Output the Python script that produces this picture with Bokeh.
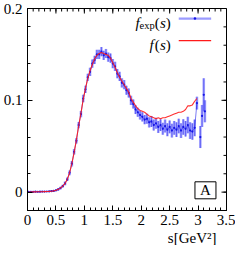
import numpy as np
from bokeh.plotting import figure
from bokeh.models import FixedTicker, Label, Range1d, Title
from bokeh.embed import file_html
from bokeh.resources import INLINE

# ---------------- data ----------------
s_grid = np.round(np.arange(0.02, 3.0, 0.04), 2)          # 0.02 ... 2.98

f_model = [0.0002, 0.0002, 0.0003, 0.0003, 0.0004, 0.0004, 0.0005, 0.0006, 0.0007, 0.0008,
           0.0010, 0.0014, 0.0020, 0.0030, 0.0045, 0.0065, 0.0095, 0.0140, 0.0210, 0.0310,
           0.043, 0.057, 0.072, 0.086, 0.101, 0.113, 0.124, 0.132, 0.139, 0.145,
           0.149, 0.151, 0.152, 0.151, 0.150, 0.149, 0.146, 0.141, 0.136, 0.130,
           0.125, 0.121, 0.117, 0.113, 0.109, 0.102, 0.098, 0.094, 0.091, 0.089,
           0.088, 0.087, 0.085, 0.083, 0.082, 0.081, 0.080, 0.081, 0.080, 0.081,
           0.081, 0.082, 0.083, 0.084, 0.085, 0.086, 0.087, 0.087, 0.088, 0.090,
           0.094, 0.094, 0.095, 0.099, 0.102]

s_exp = list(s_grid) + [3.04, 3.07, 3.10, 3.12]
f_exp = [0.0003, 0.0004, 0.0003, 0.0005, 0.0004, 0.0005, 0.0006, 0.0006, 0.0007, 0.0008,
         0.0010, 0.0013, 0.0020, 0.0030, 0.0045, 0.0065, 0.0095, 0.0140, 0.0210, 0.0310,
         0.044, 0.056, 0.073, 0.085, 0.102, 0.112, 0.125, 0.131, 0.140, 0.144,
         0.150, 0.150, 0.153, 0.149, 0.151, 0.147, 0.146, 0.140, 0.137, 0.129,
         0.126, 0.119, 0.117, 0.111, 0.108, 0.100, 0.096, 0.090, 0.087, 0.084,
         0.082, 0.079, 0.080, 0.076, 0.077, 0.073, 0.075, 0.071, 0.073, 0.069,
         0.072, 0.068, 0.071, 0.067, 0.070, 0.068, 0.072, 0.067, 0.071, 0.069,
         0.073, 0.067, 0.066, 0.070, 0.097,
         0.060, 0.083, 0.106, 0.088]
f_err = [0.0005] * 10 + \
        [0.0008, 0.0010, 0.0010, 0.0012, 0.0015, 0.0015, 0.0020, 0.0020, 0.0025, 0.0030] + \
        [0.0030, 0.0030, 0.0035, 0.0035, 0.0040, 0.0040, 0.0040, 0.0045, 0.0045, 0.0045] + \
        [0.005] * 10 + \
        [0.005] * 10 + \
        [0.0050, 0.0050, 0.0055, 0.0055, 0.0060, 0.0060, 0.0060, 0.0065, 0.0065, 0.0065] + \
        [0.0070, 0.0070, 0.0070, 0.0075, 0.0075, 0.0080, 0.0080, 0.0080, 0.0085, 0.0085] + \
        [0.0090, 0.0090, 0.0090, 0.0090, 0.0070] + \
        [0.012, 0.012, 0.018, 0.012]

x_ticks = [0, 0.5, 1, 1.5, 2, 2.5, 3, 3.5]
x_tick_labels = ["0", "0.5", "1", "1.5", "2", "2.5", "3", "3.5"]
y_ticks = [0, 0.1, 0.2]
y_tick_labels = ["0", "0.1", "0.2"]
x_minor = [round(v, 2) for v in np.arange(0, 3.51, 0.1)]
y_minor = [round(v, 3) for v in np.arange(-0.02, 0.201, 0.02)]

x_title = "s[GeV\u00b2]"
panel_tag = "A"

SERIF = "Liberation Serif"
FS = "15px"
LIGHT_BLUE = "#8a8aff"
DARK_BLUE = "#1414e6"
RED = "#ff1a1a"

X0, X1 = 0, 3.5
Y0, Y1 = -0.02, 0.2

# ---------------- figure ----------------
p = figure(width=235, height=245, output_backend="svg", toolbar_location=None,
           x_range=Range1d(X0, X1), y_range=Range1d(Y0, Y1),
           min_border_left=0, min_border_right=9, min_border_top=8,
           min_border_bottom=0)
p.grid.visible = False
p.outline_line_color = "black"
p.background_fill_color = "white"
p.border_fill_color = "white"

p.xaxis.ticker = FixedTicker(ticks=x_ticks, minor_ticks=x_minor)
p.yaxis.ticker = FixedTicker(ticks=y_ticks, minor_ticks=y_minor)
for ax in (p.xaxis[0], p.yaxis[0]):
    ax.axis_line_color = "black"
    ax.major_tick_line_color = "black"
    ax.minor_tick_line_color = "black"
    ax.major_tick_in = 5
    ax.major_tick_out = 0
    ax.minor_tick_in = 3
    ax.minor_tick_out = 0
    ax.major_label_text_font = SERIF
    ax.major_label_text_font_size = FS
    ax.major_label_text_color = "black"
p.xaxis.major_label_overrides = dict(zip(x_ticks, x_tick_labels))
p.yaxis.major_label_overrides = dict(zip(y_ticks, y_tick_labels))
p.xaxis.major_label_standoff = 4
p.yaxis.major_label_standoff = 5

# x-axis title, right-aligned like the reference
p.add_layout(Title(text=x_title, align="right", offset=10, standoff=0,
                   text_font=SERIF, text_font_size=FS, text_font_style="normal",
                   text_color="black"), "below")

# mirrored inward ticks on top and right
p.ray(x=x_ticks, y=[Y1] * len(x_ticks), length=5, length_units="screen",
      angle=-np.pi / 2, line_color="black", line_width=1)
p.ray(x=x_minor, y=[Y1] * len(x_minor), length=3, length_units="screen",
      angle=-np.pi / 2, line_color="black", line_width=1)
p.ray(x=[X1] * len(y_ticks), y=y_ticks, length=5, length_units="screen",
      angle=np.pi, line_color="black", line_width=1)
p.ray(x=[X1] * len(y_minor), y=y_minor, length=3, length_units="screen",
      angle=np.pi, line_color="black", line_width=1)

# ---------------- data marks ----------------
lo = [v - e for v, e in zip(f_exp, f_err)]
hi = [v + e for v, e in zip(f_exp, f_err)]
p.segment(x0=s_exp, y0=lo, x1=s_exp, y1=hi, line_color=LIGHT_BLUE,
          line_width=2.6, line_alpha=0.75)
p.segment(x0=s_exp, y0=lo, x1=s_exp, y1=hi, line_color=DARK_BLUE,
          line_width=0.6, line_alpha=0.8)
p.line(x=s_exp[:len(s_grid)], y=f_exp[:len(s_grid)], line_color=DARK_BLUE,
       line_width=0.8, line_alpha=0.7)
p.scatter(x=s_exp, y=f_exp, size=2.2, color=DARK_BLUE, line_width=0)
p.line(x=list(s_grid), y=f_model, line_color=RED, line_width=1.1, line_alpha=0.9)

# ---------------- legend (text left, sample right) ----------------
leg_x_text = 2.52
leg_x0, leg_x1 = 2.66, 3.23
row1, row2 = 0.189, 0.165

p.segment(x0=[leg_x0], y0=[row1], x1=[leg_x1], y1=[row1], line_color=LIGHT_BLUE,
          line_width=2.2, line_alpha=0.85)
p.scatter(x=[(leg_x0 + leg_x1) / 2], y=[row1], size=2.5, color=DARK_BLUE, line_width=0)
p.segment(x0=[leg_x0], y0=[row2], x1=[leg_x1], y1=[row2], line_color=RED, line_width=1.1)


def lab(x, y, text, xo, yo, align="right", size=FS, style="normal", base="alphabetic"):
    p.add_layout(Label(x=x, y=y, text=text, x_offset=xo, y_offset=yo,
                       text_align=align, text_baseline=base, text_font=SERIF,
                       text_font_size=size, text_font_style=style, text_color="black"))


# f_exp(s)
lab(leg_x_text, row1, ")", 0, -4)
lab(leg_x_text, row1, "s", -5, -4, style="italic")
lab(leg_x_text, row1, "(", -11, -4)
lab(leg_x_text, row1, "exp", -16, -7, size="10.5px")
lab(leg_x_text, row1, "f", -31, -4, style="italic")
# f(s)
lab(leg_x_text, row2, ")", 0, -4)
lab(leg_x_text, row2, "s", -5, -4, style="italic")
lab(leg_x_text, row2, "(", -11, -4)
lab(leg_x_text, row2, "f", -17, -4, style="italic")

# panel tag box "A"
p.rect(x=[3.13], y=[0.002], width=21, height=17, width_units="screen",
       height_units="screen", fill_color=None, line_color="black", line_width=1)
lab(3.13, 0.002, panel_tag, 0, 0, align="center", base="middle")

open("out.html", "w").write(file_html(p, INLINE))
